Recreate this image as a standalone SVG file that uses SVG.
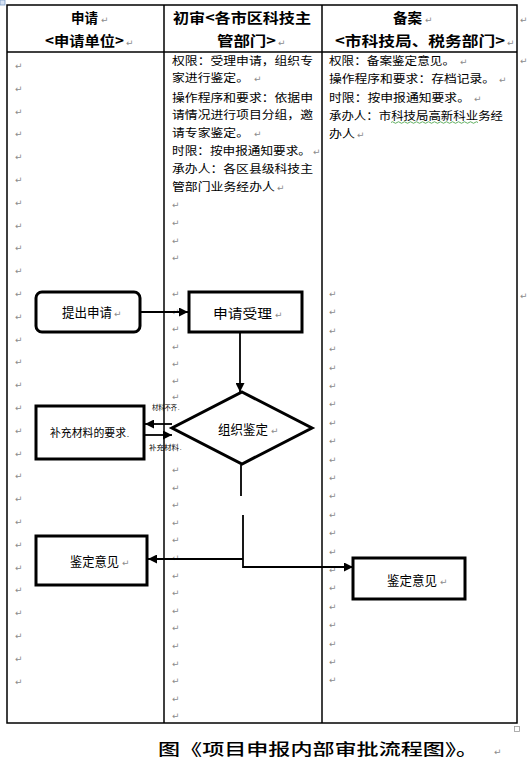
<svg xmlns="http://www.w3.org/2000/svg" width="531" height="772" viewBox="0 0 531 772">
<style>
.t{font-family:"Noto Sans CJK SC","Liberation Sans",sans-serif;fill:#000}
.h{font-size:14px;font-weight:700}
.b{font-size:11.5px}
.n{font-size:13px}
.s{font-size:7px}
.pm{font-family:"DejaVu Sans",sans-serif;font-size:9px;fill:#8c8c8c}
.grid{stroke:#000;stroke-width:1.5;fill:none}
.box{fill:#fff;stroke:#000;stroke-width:3}
.c{fill:none;stroke:#000;stroke-width:1.8}
</style>
<defs>
<marker id="ah" viewBox="0 0 10 10" refX="10" refY="5" markerWidth="9" markerHeight="9" markerUnits="userSpaceOnUse" orient="auto">
<path d="M0,0 L10,5 L0,10 z" fill="#000"/>
</marker>
</defs>
<rect width="531" height="772" fill="#fff"/>
<g id="table">
<rect class="grid" x="7" y="5" width="510" height="718"/>
<line class="grid" x1="7" y1="52" x2="517" y2="52"/>
<line class="grid" x1="164" y1="5" x2="164" y2="723"/>
<line class="grid" x1="322" y1="5" x2="322" y2="723"/>
<rect x="0" y="0" width="5" height="5" fill="#d7e3f4" stroke="#7a9cc6" stroke-width="0.8"/>
<rect x="514.5" y="726.5" width="5" height="5" fill="none" stroke="#999" stroke-width="0.8"/>
</g>
<g id="header">
<text class="t h" x="71" y="23" textLength="27" lengthAdjust="spacingAndGlyphs">申请</text><text class="pm" x="101" y="23">↵</text>
<text class="t h" x="45" y="46" textLength="79" lengthAdjust="spacingAndGlyphs">&lt;申请单位&gt;</text><text class="pm" x="126" y="46">↵</text>
<text class="t h" x="173" y="23" textLength="138" lengthAdjust="spacingAndGlyphs">初审&lt;各市区科技主</text>
<text class="t h" x="217" y="46" textLength="59" lengthAdjust="spacingAndGlyphs">管部门&gt;</text><text class="pm" x="278" y="46">↵</text>
<text class="t h" x="393" y="23" textLength="29" lengthAdjust="spacingAndGlyphs">备案</text><text class="pm" x="425" y="23">↵</text>
<text class="t h" x="335" y="46" textLength="170" lengthAdjust="spacingAndGlyphs">&lt;市科技局、税务部门&gt;</text><text class="pm" x="507" y="46">↵</text>
<text class="pm" x="520" y="23">↵</text>
</g>
<g id="col2-text">
<text class="t b" x="172" y="65" textLength="141" lengthAdjust="spacingAndGlyphs">权限：受理申请，组织专</text>
<text class="t b" x="172" y="82" textLength="77" lengthAdjust="spacingAndGlyphs">家进行鉴定。</text><text class="pm" x="254" y="82">↵</text>
<text class="t b" x="172" y="102" textLength="141" lengthAdjust="spacingAndGlyphs">操作程序和要求：依据申</text>
<text class="t b" x="172" y="119" textLength="141" lengthAdjust="spacingAndGlyphs">请情况进行项目分组，邀</text>
<text class="t b" x="172" y="137" textLength="77" lengthAdjust="spacingAndGlyphs">请专家鉴定。</text><text class="pm" x="254" y="137">↵</text>
<text class="t b" x="172" y="155" textLength="139" lengthAdjust="spacingAndGlyphs">时限：按申报通知要求。</text><text class="pm" x="313" y="155">↵</text>
<text class="t b" x="172" y="173" textLength="141" lengthAdjust="spacingAndGlyphs">承办人：各区县级科技主</text>
<text class="t b" x="172" y="191" textLength="103" lengthAdjust="spacingAndGlyphs">管部门业务经办人</text><text class="pm" x="277" y="191">↵</text>
</g>
<g id="col3-text">
<text class="t b" x="329" y="65" textLength="126" lengthAdjust="spacingAndGlyphs">权限：备案鉴定意见。</text><text class="pm" x="460" y="65">↵</text>
<text class="t b" x="329" y="83" textLength="166" lengthAdjust="spacingAndGlyphs">操作程序和要求：存档记录。</text><text class="pm" x="499" y="83">↵</text>
<text class="t b" x="329" y="102" textLength="141" lengthAdjust="spacingAndGlyphs">时限：按申报通知要求。</text><text class="pm" x="474" y="102">↵</text>
<text class="t b" x="329" y="120" textLength="174" lengthAdjust="spacingAndGlyphs">承办人：市科技局高新科业务经</text>
<path d="M391,122.5 q1.5,-1.5 3,0 t3,0 t3,0 t3,0 t3,0 t3,0 t3,0 t3,0 t3,0 t3,0 t3,0 t3,0 t3,0 t3,0 t3,0 t3,0 t3,0 t3,0 t3,0 t3,0 t3,0 t3,0 t3,0 t3,0 t3,0 t3,0 t3,0 t3,0 t3,0" fill="none" stroke="#3a9a3a" stroke-width="0.8"/>
<text class="t b" x="329" y="138" textLength="26" lengthAdjust="spacingAndGlyphs">办人</text><text class="pm" x="357" y="138">↵</text>
<text class="pm" x="520" y="64">↵</text>
<text class="pm" x="520" y="299">↵</text>
</g>
<g id="marks">
<text class="pm" x="15"><tspan x="15" y="69">↵</tspan><tspan x="15" y="92">↵</tspan><tspan x="15" y="115">↵</tspan><tspan x="15" y="137">↵</tspan><tspan x="15" y="160">↵</tspan><tspan x="15" y="183">↵</tspan><tspan x="15" y="206">↵</tspan><tspan x="15" y="229">↵</tspan><tspan x="15" y="251">↵</tspan><tspan x="15" y="274">↵</tspan><tspan x="15" y="297">↵</tspan><tspan x="15" y="320">↵</tspan><tspan x="15" y="343">↵</tspan><tspan x="15" y="365">↵</tspan><tspan x="15" y="388">↵</tspan><tspan x="15" y="411">↵</tspan><tspan x="15" y="434">↵</tspan><tspan x="15" y="457">↵</tspan><tspan x="15" y="479">↵</tspan><tspan x="15" y="502">↵</tspan><tspan x="15" y="525">↵</tspan><tspan x="15" y="548">↵</tspan><tspan x="15" y="571">↵</tspan><tspan x="15" y="593">↵</tspan><tspan x="15" y="616">↵</tspan><tspan x="15" y="639">↵</tspan><tspan x="15" y="662">↵</tspan><tspan x="15" y="685">↵</tspan></text>
<text class="pm" x="172"><tspan x="172" y="208">↵</tspan><tspan x="172" y="226">↵</tspan><tspan x="172" y="244">↵</tspan><tspan x="172" y="261">↵</tspan><tspan x="172" y="297">↵</tspan><tspan x="172" y="315">↵</tspan><tspan x="172" y="332">↵</tspan><tspan x="172" y="350">↵</tspan><tspan x="172" y="367">↵</tspan><tspan x="172" y="384">↵</tspan><tspan x="172" y="400">↵</tspan><tspan x="172" y="473">↵</tspan><tspan x="172" y="491">↵</tspan><tspan x="172" y="508">↵</tspan><tspan x="172" y="526">↵</tspan><tspan x="172" y="543">↵</tspan><tspan x="172" y="561">↵</tspan><tspan x="172" y="579">↵</tspan><tspan x="172" y="596">↵</tspan><tspan x="172" y="614">↵</tspan><tspan x="172" y="631">↵</tspan><tspan x="172" y="649">↵</tspan><tspan x="172" y="667">↵</tspan><tspan x="172" y="684">↵</tspan><tspan x="172" y="702">↵</tspan><tspan x="172" y="719">↵</tspan></text>
<text class="pm" x="329"><tspan x="329" y="297">↵</tspan><tspan x="329" y="315">↵</tspan><tspan x="329" y="334">↵</tspan><tspan x="329" y="352">↵</tspan><tspan x="329" y="371">↵</tspan><tspan x="329" y="389">↵</tspan><tspan x="329" y="407">↵</tspan><tspan x="329" y="426">↵</tspan><tspan x="329" y="444">↵</tspan><tspan x="329" y="463">↵</tspan><tspan x="329" y="481">↵</tspan><tspan x="329" y="499">↵</tspan><tspan x="329" y="518">↵</tspan><tspan x="329" y="536">↵</tspan><tspan x="329" y="555">↵</tspan><tspan x="329" y="573">↵</tspan><tspan x="329" y="591">↵</tspan><tspan x="329" y="610">↵</tspan><tspan x="329" y="628">↵</tspan><tspan x="329" y="647">↵</tspan><tspan x="329" y="665">↵</tspan><tspan x="329" y="683">↵</tspan></text>
</g>
<g id="connectors">
<path class="c" d="M140,312 H188" marker-end="url(#ah)"/>
<path class="c" d="M240,333 V392" stroke-width="2" marker-end="url(#ah)"/>
<path class="c" d="M172,424 H145" stroke-width="2" marker-end="url(#ah)"/>
<path class="c" d="M145,435 H172" stroke-width="2" marker-end="url(#ah)"/>
<path class="c" d="M241,465 V496" stroke-width="2"/>
<path class="c" d="M243,515 V567 H353" marker-end="url(#ah)"/>
<path class="c" d="M243,559 H148" marker-end="url(#ah)"/>
</g>
<g id="n-apply">
<rect class="box" x="36" y="292" width="104" height="40" rx="6"/>
<text class="t n" x="62" y="317" textLength="50" lengthAdjust="spacingAndGlyphs">提出申请</text><text class="pm" x="114" y="317">↵</text>
</g>
<g id="n-accept">
<rect class="box" x="189" y="292" width="113" height="40" stroke-width="3.5"/>
<text class="t n" x="213" y="318" textLength="59" lengthAdjust="spacingAndGlyphs">申请受理</text><text class="pm" x="275" y="318">↵</text>
</g>
<g id="n-review">
<polygon class="box" points="242,392 312,428 242,464 172,428"/>
<text class="t n" x="218" y="434" textLength="50" lengthAdjust="spacingAndGlyphs">组织鉴定</text><text class="pm" x="271" y="434">↵</text>
</g>
<g id="n-supplement">
<rect class="box" x="36" y="406" width="108" height="53"/>
<text class="t" font-size="11" x="50" y="437" textLength="76" lengthAdjust="spacingAndGlyphs">补充材料的要求</text><text class="t" font-size="7" x="127" y="437">.</text>
</g>
<g id="labels">
<text class="t s" x="152" y="410" textLength="25" lengthAdjust="spacingAndGlyphs">材料不齐</text><text class="t" font-size="5" x="178" y="410">.</text>
<text class="t s" x="149" y="450" textLength="30" lengthAdjust="spacingAndGlyphs">补充材料</text><text class="t" font-size="5" x="180" y="450">.</text>
</g>
<g id="n-opinion-left">
<rect class="box" x="36" y="536" width="111" height="49"/>
<text class="t n" x="70" y="566" textLength="49" lengthAdjust="spacingAndGlyphs">鉴定意见</text><text class="pm" x="122" y="566">↵</text>
</g>
<g id="n-opinion-right">
<rect class="box" x="353" y="558" width="112" height="41"/>
<text class="t n" x="387" y="585" textLength="50" lengthAdjust="spacingAndGlyphs">鉴定意见</text><text class="pm" x="440" y="585">↵</text>
</g>
<g id="caption">
<text class="t" font-size="16" font-weight="500" x="158" y="755" textLength="320" lengthAdjust="spacingAndGlyphs">图《项目申报内部审批流程图》。</text><text class="pm" x="494" y="755">↵</text>
</g>
</svg>
